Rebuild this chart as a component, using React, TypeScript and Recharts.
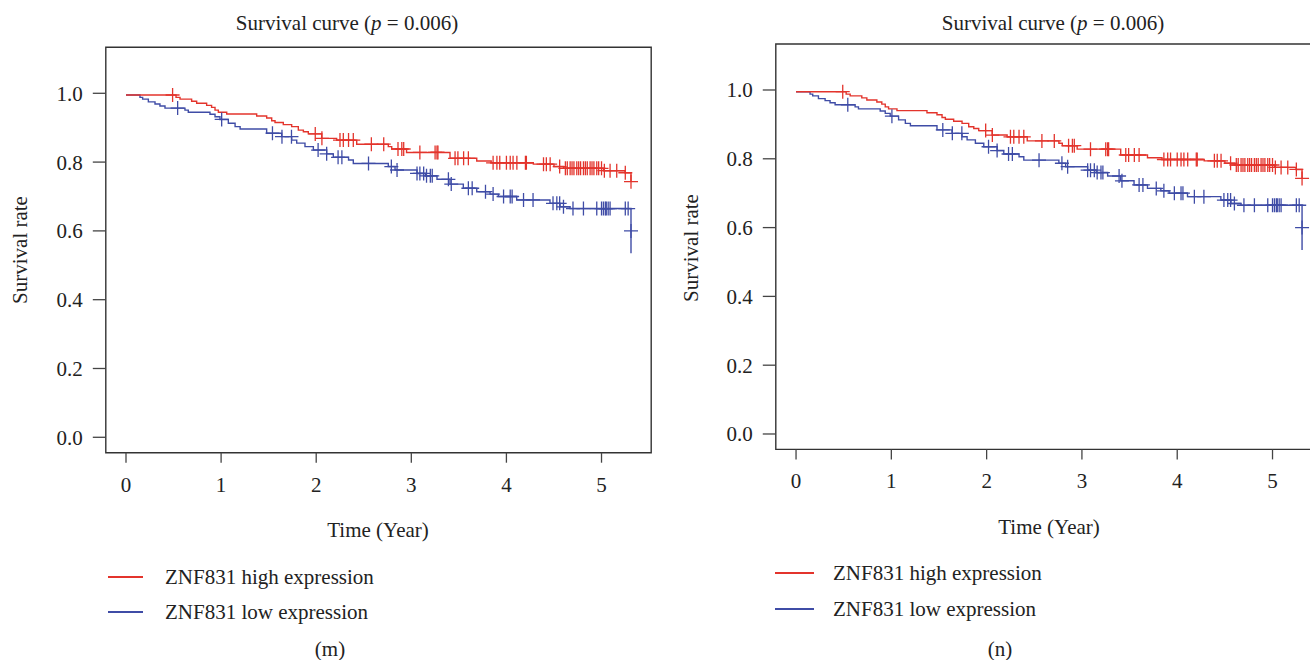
import React from 'react';
import { ComposedChart, Line, Scatter, XAxis, YAxis, ReferenceArea } from 'recharts';

// ---------- data ----------
const xTicks = [0, 1, 2, 3, 4, 5];
const yTicks = [0, 0.2, 0.4, 0.6, 0.8, 1.0];

const highTimes = [0, 0.526, 0.568, 0.69, 0.743, 0.848, 0.9, 0.936, 0.971, 1.059, 1.374, 1.479, 1.532, 1.567, 1.654, 1.742, 1.812, 1.865, 1.917, 2.058, 2.215, 2.426, 2.758, 2.794, 2.95, 3.407, 3.688, 3.84, 4.283, 4.5, 4.6, 5.02, 5.247, 5.31];
const highSurv = [0.995, 0.988, 0.983, 0.977, 0.971, 0.965, 0.959, 0.951, 0.945, 0.94, 0.934, 0.928, 0.92, 0.915, 0.909, 0.903, 0.893, 0.888, 0.882, 0.869, 0.864, 0.852, 0.845, 0.838, 0.828, 0.811, 0.803, 0.798, 0.794, 0.787, 0.782, 0.775, 0.769, 0.743];
const highCensor = [0.49, 1.99, 2.06, 2.25, 2.285, 2.34, 2.39, 2.58, 2.71, 2.86, 2.9, 2.92, 3.09, 3.25, 3.27, 3.28, 3.46, 3.49, 3.55, 3.6, 3.86, 3.9, 3.93, 4.0, 4.04, 4.07, 4.11, 4.2, 4.21, 4.39, 4.42, 4.46, 4.56, 4.62, 4.64, 4.67, 4.69, 4.71, 4.74, 4.76, 4.78, 4.81, 4.83, 4.85, 4.88, 4.9, 4.92, 4.95, 4.97, 5.0, 5.03, 5.09, 5.16, 5.25, 5.31];

const lowTimes = [0, 0.147, 0.175, 0.235, 0.305, 0.357, 0.41, 0.62, 0.655, 0.883, 0.936, 0.988, 1.076, 1.147, 1.2, 1.479, 1.637, 1.742, 1.795, 1.882, 1.97, 2.11, 2.18, 2.34, 2.39, 2.758, 2.829, 3.06, 3.15, 3.27, 3.407, 3.547, 3.688, 3.828, 3.915, 4.108, 4.458, 4.564, 4.669, 5.31, 5.31];
const lowSurv = [0.995, 0.988, 0.983, 0.975, 0.969, 0.963, 0.957, 0.951, 0.945, 0.939, 0.932, 0.924, 0.913, 0.903, 0.896, 0.884, 0.874, 0.864, 0.855, 0.845, 0.835, 0.824, 0.814, 0.806, 0.796, 0.787, 0.777, 0.767, 0.76, 0.75, 0.736, 0.724, 0.714, 0.707, 0.7, 0.69, 0.68, 0.67, 0.665, 0.6, 0.535];
const lowCensor = [0.543, 1.006, 1.54, 1.64, 1.74, 2.02, 2.11, 2.23, 2.27, 2.55, 2.79, 2.85, 3.06, 3.09, 3.13, 3.16, 3.2, 3.22, 3.39, 3.42, 3.6, 3.64, 3.78, 3.86, 3.97, 4.04, 4.06, 4.18, 4.28, 4.49, 4.53, 4.56, 4.6, 4.7, 4.81, 4.95, 5.0, 5.02, 5.04, 5.05, 5.07, 5.09, 5.25, 5.28, 5.31];

const seriesNames = ['ZNF831 high expression', 'ZNF831 low expression'];
const panelTags = ['(m)', '(n)'];
const titleText = 'Survival curve (';
const pText = 'p';
const pValueText = ' = 0.006)';
const xLabel = 'Time (Year)';
const yLabel = 'Survival rate';

// ---------- helpers ----------
const X_DOMAIN: [number, number] = [-0.2124, 5.5224];
const Y_DOMAIN: [number, number] = [-0.0448, 1.1337];
const RED = '#e3342c';
const BLUE = '#3f4ca6';
const FONT = '"Liberation Serif", "Times New Roman", serif';
const FS = 21;

function survAt(times: number[], surv: number[], t: number) {
  let v = surv[0];
  for (let i = 0; i < times.length; i++) {
    if (times[i] <= t + 1e-9) {
      if (i === 0 || times[i] !== times[i - 1]) v = surv[i];
    } else break;
  }
  return v;
}

const curve = (times: number[], surv: number[]) => times.map((t, i) => ({ t, s: surv[i] }));
const marks = (times: number[], surv: number[], cens: number[]) =>
  cens.map((t) => ({ t, s: survAt(times, surv, t) }));

const highCurve = curve(highTimes, highSurv);
const lowCurve = curve(lowTimes, lowSurv);
const highMarks = marks(highTimes, highSurv, highCensor);
const lowMarks = marks(lowTimes, lowSurv, lowCensor);

const makeCross = (color: string) => (props: any) => {
  const { cx, cy } = props;
  if (cx == null || cy == null) return <g />;
  return (
    <path
      d={`M${cx - 7},${cy}H${cx + 7}M${cx},${cy - 7}V${cy + 7}`}
      stroke={color}
      strokeWidth={1.3}
      fill="none"
    />
  );
};

const tickStyle = { fill: '#222', fontSize: FS, fontFamily: FONT };

type PanelCfg = {
  left: number;
  width: number;
  margin: { top: number; right: number; bottom: number; left: number };
  title: [number, number];
  ylab: [number, number];
  xlab: [number, number];
  legLine: [number, number];
  legText: number;
  legY: [number, number];
  tag: [number, number];
};

const Y_AXIS_W = 60;
const X_AXIS_H = 30;

const panels: PanelCfg[] = [
  {
    left: 0,
    width: 660,
    margin: { top: 47.3, right: 8.8, bottom: 207.3 - X_AXIS_H, left: 105.8 - Y_AXIS_W },
    title: [347, 23],
    ylab: [20, 250],
    xlab: [378, 530],
    legLine: [108, 143],
    legText: 165,
    legY: [577, 612],
    tag: [330, 649],
  },
  {
    left: 660,
    width: 680,
    margin: { top: 44.0, right: 17.7, bottom: 210.6 - X_AXIS_H, left: 115.8 - Y_AXIS_W },
    title: [1053, 23],
    ylab: [691, 248],
    xlab: [1049, 527],
    legLine: [775, 814],
    legText: 833,
    legY: [573, 609],
    tag: [1000, 649],
  },
];

const Centered = ({ x, y, children, rotate }: any) => (
  <div
    style={{
      position: 'absolute',
      left: x,
      top: y,
      transform: `translate(-50%, -50%)${rotate ? ' rotate(-90deg)' : ''}`,
      whiteSpace: 'nowrap',
      lineHeight: 1,
      fontSize: FS,
      fontFamily: FONT,
      color: '#222',
    }}
  >
    {children}
  </div>
);

function Panel({ cfg, tag }: { cfg: PanelCfg; tag: string }) {
  return (
    <>
      <div style={{ position: 'absolute', left: cfg.left, top: 0, width: cfg.width, height: 660 }}>
        <ComposedChart width={cfg.width} height={660} margin={cfg.margin}>
          <XAxis
            type="number"
            dataKey="t"
            domain={X_DOMAIN}
            ticks={xTicks}
            interval={0}
            allowDataOverflow
            axisLine={false}
            tickLine={{ stroke: '#444', strokeWidth: 1.3 }}
            tickSize={10}
            tickMargin={14}
            height={X_AXIS_H}
            tick={tickStyle}
          />
          <YAxis
            type="number"
            dataKey="s"
            domain={Y_DOMAIN}
            ticks={yTicks}
            interval={0}
            allowDataOverflow
            axisLine={false}
            tickLine={{ stroke: '#444', strokeWidth: 1.3 }}
            tickSize={13}
            tickMargin={10}
            width={Y_AXIS_W}
            tick={tickStyle}
            tickFormatter={(v: number) => v.toFixed(1)}
          />
          <ReferenceArea
            x1={X_DOMAIN[0]}
            x2={X_DOMAIN[1]}
            y1={Y_DOMAIN[0]}
            y2={Y_DOMAIN[1]}
            fill="none"
            fillOpacity={0}
            stroke="#333"
            strokeWidth={1.4}
            ifOverflow="visible"
          />
          <Line data={lowCurve} dataKey="s" type="stepAfter" stroke={BLUE} strokeWidth={1.4} dot={false} activeDot={false} isAnimationActive={false} />
          <Line data={highCurve} dataKey="s" type="stepAfter" stroke={RED} strokeWidth={1.4} dot={false} activeDot={false} isAnimationActive={false} />
          <Scatter data={lowMarks} dataKey="s" shape={makeCross(BLUE)} isAnimationActive={false} />
          <Scatter data={highMarks} dataKey="s" shape={makeCross(RED)} isAnimationActive={false} />
        </ComposedChart>
      </div>
      <Centered x={cfg.title[0]} y={cfg.title[1]}>
        {titleText}
        <i>{pText}</i>
        {pValueText}
      </Centered>
      <Centered x={cfg.ylab[0]} y={cfg.ylab[1]} rotate>
        {yLabel}
      </Centered>
      <Centered x={cfg.xlab[0]} y={cfg.xlab[1]}>
        {xLabel}
      </Centered>
      {[RED, BLUE].map((c, i) => (
        <React.Fragment key={i}>
          <div
            style={{
              position: 'absolute',
              left: cfg.legLine[0],
              top: cfg.legY[i] - 0.75,
              width: cfg.legLine[1] - cfg.legLine[0],
              height: 1.5,
              background: c,
            }}
          />
          <div
            style={{
              position: 'absolute',
              left: cfg.legText,
              top: cfg.legY[i],
              transform: 'translateY(-50%)',
              whiteSpace: 'nowrap',
              lineHeight: 1,
              fontSize: FS,
              fontFamily: FONT,
              color: '#222',
            }}
          >
            {seriesNames[i]}
          </div>
        </React.Fragment>
      ))}
      <Centered x={cfg.tag[0]} y={cfg.tag[1]}>
        {tag}
      </Centered>
    </>
  );
}

export default function App() {
  return (
    <div
      style={{
        position: 'absolute',
        left: 0,
        top: 0,
        width: 1310,
        height: 660,
        overflow: 'hidden',
        background: '#fff',
      }}
    >
      {panels.map((p, i) => (
        <Panel key={i} cfg={p} tag={panelTags[i]} />
      ))}
    </div>
  );
}
